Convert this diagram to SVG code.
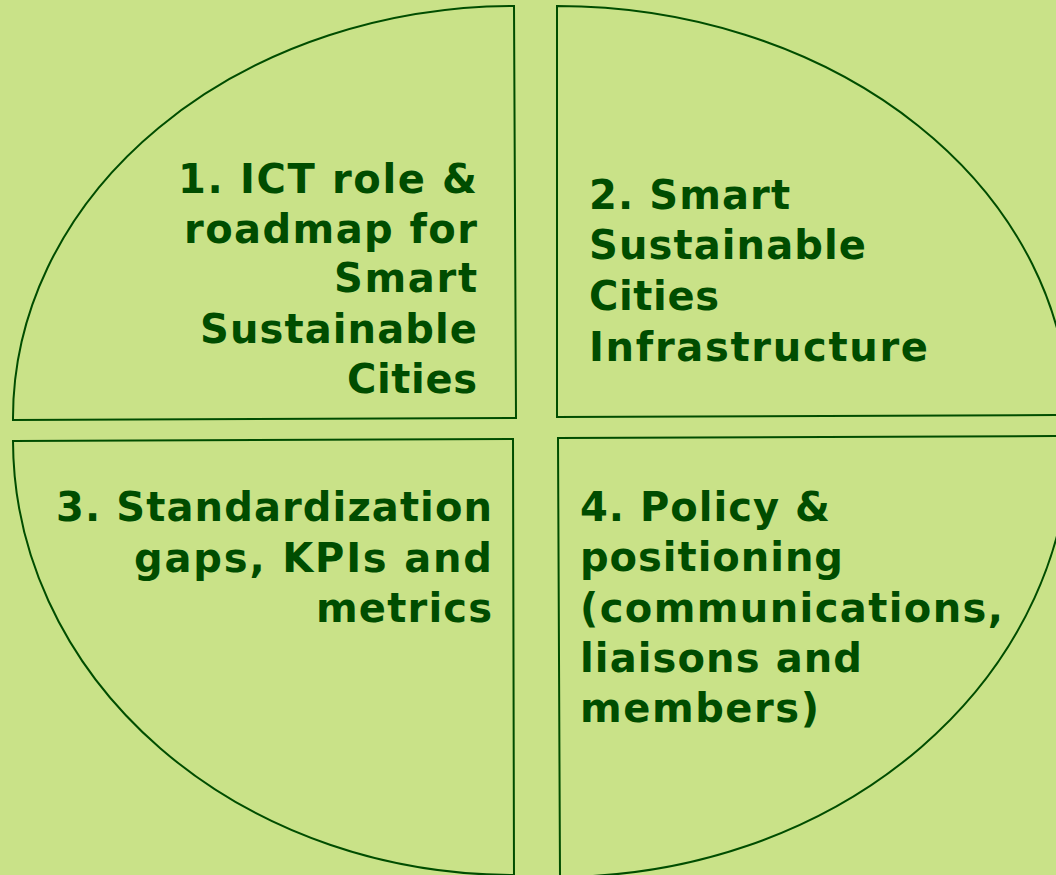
<svg xmlns="http://www.w3.org/2000/svg" width="1056" height="875" viewBox="0 0 1056 875">
<style>
.q{fill:#c9e288;stroke:#004d00;stroke-width:2}
.t{font-family:"DejaVu Sans","Verdana",sans-serif;font-weight:bold;font-size:40px;fill:#004d00}
.r{text-anchor:end}
</style>
<rect width="1056" height="875" fill="#c9e288"/>
<g id="q1">
<path class="q" d="M514,6 L516,418 L13,420 A502,412 0 0 1 514,6 Z"/>
<text class="t r"><tspan x="477" y="193" textLength="299" lengthAdjust="spacing">1. ICT role &amp;</tspan><tspan x="477" y="243" textLength="293" lengthAdjust="spacing">roadmap for</tspan><tspan x="477" y="292" textLength="143" lengthAdjust="spacing">Smart</tspan><tspan x="477" y="343" textLength="277" lengthAdjust="spacing">Sustainable</tspan><tspan x="477" y="393" textLength="130" lengthAdjust="spacing">Cities</tspan></text>
</g>
<g id="q2">
<path class="q" d="M557,6 A512,411 0 0 1 1069,415 L557,417 Z"/>
<text class="t"><tspan x="589" y="209" textLength="201" lengthAdjust="spacing">2. Smart</tspan><tspan x="589" y="259" textLength="277" lengthAdjust="spacing">Sustainable</tspan><tspan x="589" y="310" textLength="130" lengthAdjust="spacing">Cities</tspan><tspan x="589" y="361" textLength="339" lengthAdjust="spacing">Infrastructure</tspan></text>
</g>
<g id="q3">
<path class="q" d="M13,441 L513,439 L514,875 A500,435 0 0 1 13,441 Z"/>
<text class="t r"><tspan x="492" y="521" textLength="436" lengthAdjust="spacing">3. Standardization</tspan><tspan x="492" y="572" textLength="358" lengthAdjust="spacing">gaps, KPIs and</tspan><tspan x="492" y="622" textLength="176" lengthAdjust="spacing">metrics</tspan></text>
</g>
<g id="q4">
<path class="q" d="M558,438 L1070,436 A512,440 0 0 1 560,877 Z"/>
<text class="t"><tspan x="580" y="521" textLength="250" lengthAdjust="spacing">4. Policy &amp;</tspan><tspan x="580" y="571" textLength="263" lengthAdjust="spacing">positioning</tspan><tspan x="580" y="622" textLength="423" lengthAdjust="spacing">(communications,</tspan><tspan x="580" y="672" textLength="282" lengthAdjust="spacing">liaisons and</tspan><tspan x="580" y="722" textLength="239" lengthAdjust="spacing">members)</tspan></text>
</g>
<g id="connectors"/>
</svg>
